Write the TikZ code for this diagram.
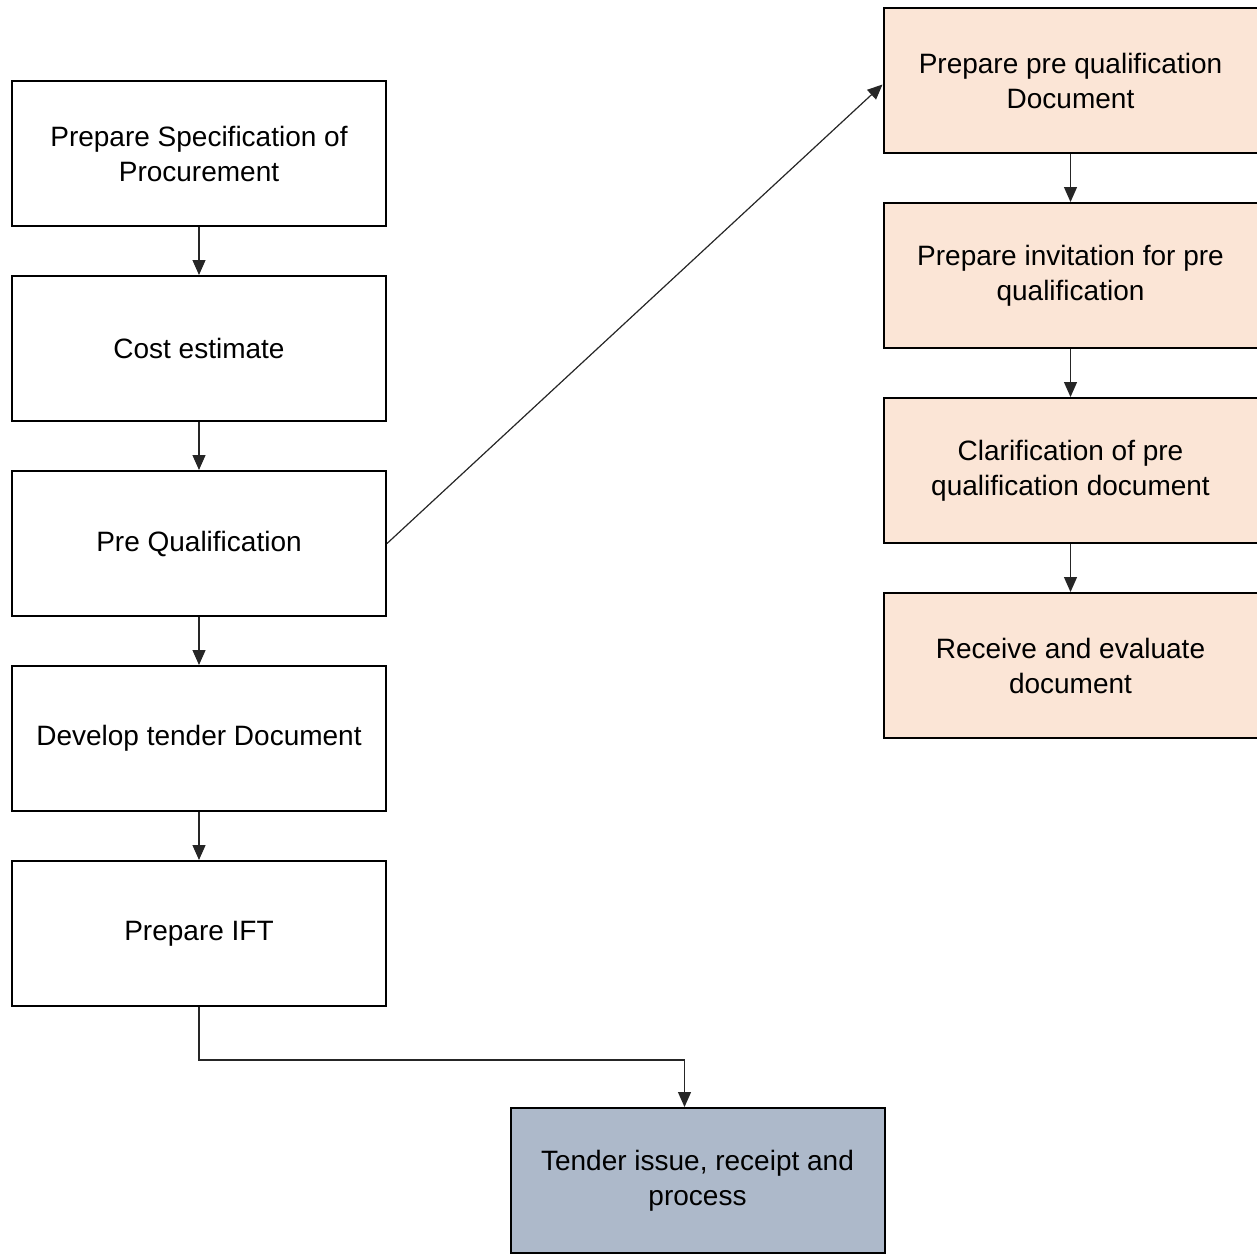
\documentclass[tikz,border=0pt]{standalone}
\usepackage{fontspec}
\setmainfont{Liberation Sans}
\usetikzlibrary{arrows.meta, positioning}
\definecolor{PqPeach}{HTML}{FBE5D6}
\definecolor{TenderBlue}{HTML}{ADB9CA}
\definecolor{LineGrey}{HTML}{262626}

\begin{document}
\begin{tikzpicture}[>={Triangle[length=15pt,width=13pt]}, node distance=48pt,
        stage/.style={rectangle, draw=black, line width=2pt, fill=white, align=center, minimum width=374pt, minimum height=145pt, inner sep=0pt, font=\fontsize{28}{35}\selectfont},
        arrow/.style={->, line width=1.2pt, LineGrey}]

        \useasboundingbox (0,0) rectangle (1257pt,-1254pt);

        % main procurement column
        \node[stage] (spec) at (199pt,-153.5pt) {Prepare Specification of\\Procurement};
        \node[stage, below=of spec] (cost) {Cost estimate};
        \node[stage, below=of cost] (prequal) {Pre Qualification};
        \node[stage, below=of prequal] (tenderdoc) {Develop tender Document};
        \node[stage, below=of tenderdoc] (ift) {Prepare IFT};

        % pre qualification branch
        \node[stage, fill=PqPeach] (pqdoc) at (1070.5pt,-80.5pt) {Prepare pre qualification\\Document};
        \node[stage, fill=PqPeach, below=of pqdoc] (invite) {Prepare invitation  for pre\\qualification};
        \node[stage, fill=PqPeach, below=of invite] (clarify) {Clarification of pre\\qualification  document};
        \node[stage, fill=PqPeach, below=of clarify] (evaluate) {Receive and  evaluate\\document};

        \node[stage, fill=TenderBlue] (issue) at (697.5pt,-1180.5pt) {Tender issue, receipt and\\process};

        \draw[arrow] (spec) -- (cost);
        \draw[arrow] (cost) -- (prequal);
        \draw[arrow] (prequal) -- (tenderdoc);
        \draw[arrow] (tenderdoc) -- (ift);
        \draw[arrow] (prequal.east) -- ([yshift=-4pt]pqdoc.west);
        \draw[arrow] (pqdoc) -- (invite);
        \draw[arrow] (invite) -- (clarify);
        \draw[arrow] (clarify) -- (evaluate);
        \draw[arrow] (ift.south) -- ++(0,-53pt) -| ([xshift=-13pt]issue.north);
\end{tikzpicture}
\end{document}
